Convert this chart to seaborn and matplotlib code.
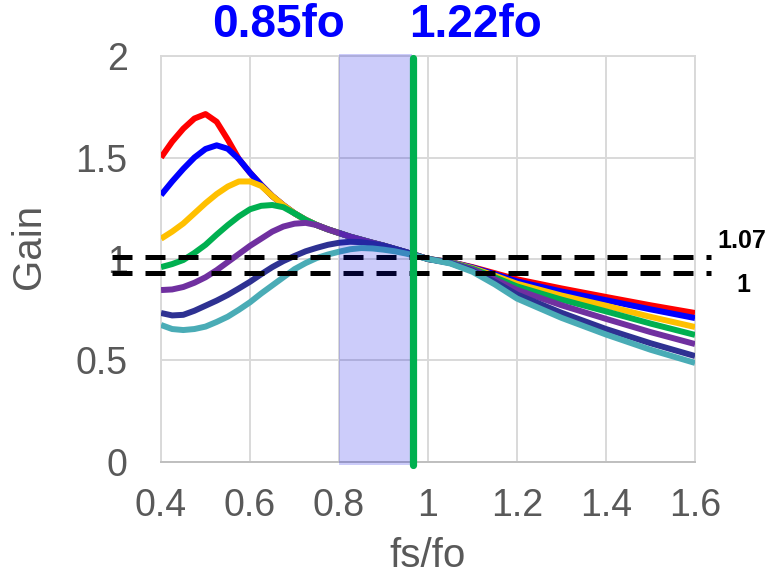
import pandas as pd
import matplotlib
matplotlib.use("Agg")
import matplotlib.pyplot as plt
import seaborn as sns

# normalised switching frequency (shared by all curves)
fs_fo = [0.400, 0.425, 0.450, 0.475, 0.500, 0.525, 0.550, 0.575, 0.600, 0.625,
         0.650, 0.675, 0.700, 0.725, 0.750, 0.775, 0.800, 0.825, 0.850, 0.875,
         0.900, 0.925, 0.950, 0.975, 1.000, 1.05, 1.10, 1.15, 1.20, 1.30,
         1.40, 1.50, 1.60]

gain_red = [1.500, 1.578, 1.642, 1.692, 1.714, 1.676, 1.588, 1.492, 1.425, 1.365,
            1.310, 1.265, 1.225, 1.193, 1.167, 1.146, 1.128, 1.110, 1.095, 1.080,
            1.066, 1.050, 1.034, 1.017, 1.000, 0.985, 0.960, 0.930, 0.900, 0.855,
            0.813, 0.772, 0.734]
gain_blue = [1.315, 1.382, 1.444, 1.500, 1.542, 1.560, 1.543, 1.492, 1.425, 1.365,
             1.310, 1.265, 1.225, 1.193, 1.167, 1.146, 1.128, 1.110, 1.095, 1.080,
             1.066, 1.050, 1.034, 1.017, 1.000, 0.985, 0.958, 0.925, 0.890, 0.840,
             0.797, 0.752, 0.709]
gain_gold = [1.100, 1.135, 1.175, 1.225, 1.275, 1.320, 1.357, 1.382, 1.382, 1.360,
             1.310, 1.265, 1.225, 1.193, 1.167, 1.146, 1.128, 1.110, 1.095, 1.080,
             1.066, 1.050, 1.034, 1.017, 1.000, 0.984, 0.955, 0.918, 0.878, 0.820,
             0.770, 0.715, 0.665]
gain_green = [0.960, 0.975, 0.995, 1.030, 1.070, 1.120, 1.167, 1.210, 1.245, 1.262,
              1.266, 1.255, 1.225, 1.193, 1.167, 1.146, 1.128, 1.110, 1.095, 1.080,
              1.066, 1.050, 1.034, 1.017, 1.000, 0.983, 0.952, 0.910, 0.865, 0.800,
              0.742, 0.682, 0.626]
gain_purple = [0.847, 0.850, 0.862, 0.883, 0.910, 0.945, 0.985, 1.025, 1.065, 1.100,
               1.135, 1.160, 1.174, 1.178, 1.167, 1.146, 1.128, 1.110, 1.095, 1.080,
               1.066, 1.050, 1.034, 1.017, 1.000, 0.982, 0.948, 0.900, 0.848, 0.772,
               0.705, 0.640, 0.581]
gain_navy = [0.734, 0.722, 0.725, 0.745, 0.770, 0.795, 0.823, 0.855, 0.888, 0.925,
             0.960, 0.990, 1.015, 1.038, 1.055, 1.070, 1.080, 1.085, 1.083, 1.075,
             1.065, 1.050, 1.034, 1.017, 1.000, 0.980, 0.942, 0.888, 0.825, 0.735,
             0.655, 0.585, 0.522]
gain_teal = [0.675, 0.655, 0.650, 0.655, 0.667, 0.690, 0.716, 0.750, 0.787, 0.830,
             0.870, 0.910, 0.950, 0.980, 1.005, 1.022, 1.036, 1.048, 1.054, 1.052,
             1.046, 1.038, 1.027, 1.014, 1.000, 0.978, 0.937, 0.875, 0.805, 0.710,
             0.628, 0.553, 0.488]

curve_names = ["red", "blue", "gold", "green", "purple", "navy", "teal"]
curve_colors = ["#FF0000", "#0000FF", "#FFC000", "#00B050", "#7030A0", "#2E3192", "#4AACB6"]

band_lo, band_hi = 0.80, 0.965     # shaded operating window
marker_x = 0.966                   # green marker line
ref_levels = [1.01, 0.93]          # dashed reference levels
ref_labels = ["1.07", "1"]
top_labels = ["0.85fo", "1.22fo"]

x_ticks = [0.4, 0.6, 0.8, 1.0, 1.2, 1.4, 1.6]
x_ticklabels = ["0.4", "0.6", "0.8", "1", "1.2", "1.4", "1.6"]
y_ticks = [0, 0.5, 1, 1.5, 2]
y_ticklabels = ["0", "0.5", "1", "1.5", "2"]

df = pd.DataFrame({"fs/fo": fs_fo, "red": gain_red, "blue": gain_blue, "gold": gain_gold,
                   "green": gain_green, "purple": gain_purple, "navy": gain_navy,
                   "teal": gain_teal})
long_df = df.melt(id_vars="fs/fo", var_name="curve", value_name="Gain")

sns.set_theme(style="white")
plt.rcParams["font.family"] = ["Liberation Sans", "DejaVu Sans"]

fig = plt.figure(figsize=(7.72, 5.78), dpi=100)
ax = fig.add_axes([0.2086, 0.2007, 0.6917, 0.7024])

sns.lineplot(data=long_df, x="fs/fo", y="Gain", hue="curve", hue_order=curve_names,
             palette=dict(zip(curve_names, curve_colors)), linewidth=4.3,
             estimator=None, sort=False, legend=False, ax=ax, zorder=3)
for ln in ax.lines:
    ln.set_solid_capstyle("butt")
    ln.set_solid_joinstyle("round")

# dashed reference lines run past the axes on both sides
for lvl in ref_levels:
    ax.plot([0.29, 1.635], [lvl, lvl], color="black", linewidth=3.6,
            dashes=(4, 2.6), clip_on=False, zorder=4)

ax.axvspan(band_lo, band_hi, ymin=-0.008, ymax=1.005, color="#0000E6", alpha=0.2,
           linewidth=0, clip_on=False, zorder=5)
ax.axvline(marker_x, ymin=-0.008, ymax=0.995, color="#00B050", linewidth=5.2,
           clip_on=False, zorder=6)

ax.set_xlim(0.4, 1.6)
ax.set_ylim(0, 2)
ax.set_xticks(x_ticks, x_ticklabels)
ax.set_yticks(y_ticks, y_ticklabels)
ax.grid(True, color="#D9D9D9", linewidth=1.4)
for sp in ax.spines.values():
    sp.set_color("#D9D9D9")
    sp.set_linewidth(1.4)
ax.spines["bottom"].set_color("#BFBFBF")
ax.tick_params(length=0, labelsize=27, labelcolor="#595959")
ax.tick_params(axis="y", pad=24)
ax.tick_params(axis="x", pad=19)

ax.set_xlabel("fs/fo", fontsize=29, color="#595959")
ax.set_ylabel("Gain", fontsize=29, color="#595959")
ax.xaxis.set_label_coords(0.5, -0.185)
ax.yaxis.set_label_coords(-0.212, 0.53)

title_font = ["Liberation Sans", "DejaVu Sans"]
fig.text(278 / 772, 1 - 25 / 578, top_labels[0], color="#0000FF", fontsize=33,
         fontweight="bold", ha="center", va="center", family=title_font)
fig.text(475 / 772, 1 - 25 / 578, top_labels[1], color="#0000FF", fontsize=33,
         fontweight="bold", ha="center", va="center", family=title_font)

fig.text(742 / 772, 1 - 241 / 578, ref_labels[0], color="black", fontsize=18,
         fontweight="bold", ha="center", va="center", family=title_font)
fig.text(743 / 772, 1 - 285 / 578, ref_labels[1], color="black", fontsize=18,
         fontweight="bold", ha="center", va="center", family=title_font)

fig.savefig("out.png", dpi=100)
plt.close(fig)
